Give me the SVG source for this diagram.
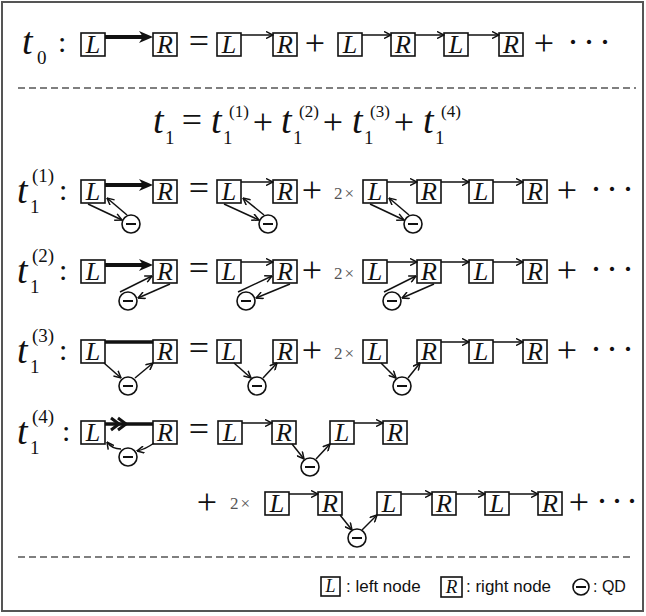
<svg xmlns="http://www.w3.org/2000/svg" width="646" height="616" viewBox="0 0 646 616">
<style>
.bx{fill:#fff;stroke:#111;stroke-width:1.6}
.bt{font-family:"Liberation Serif",serif;font-style:italic;font-size:26px;fill:#111;text-anchor:middle}
.m{font-family:"Liberation Serif",serif;font-size:36px;fill:#111;text-anchor:middle}
.t{font-family:"Liberation Serif",serif;font-style:italic;font-size:38px;fill:#111}
.s{font-family:"Liberation Serif",serif;font-size:19px;fill:#111}
.p{font-family:"Liberation Serif",serif;font-size:17px;fill:#111}
.c{font-family:"Liberation Serif",serif;font-size:30px;fill:#111}
.k{font-family:"Liberation Serif",serif;font-size:17px;fill:#555;letter-spacing:2px}
.d{font-family:"Liberation Serif",serif;font-size:36px;fill:#111;letter-spacing:4px}
.lg{font-family:"Liberation Sans",Arial,sans-serif;font-size:17px;fill:#111}
.q circle{fill:#fff;stroke:#111;stroke-width:1.6}
.q line{stroke:#111;stroke-width:2}
.a{fill:none;stroke:#111;stroke-width:1.5;marker-end:url(#ah)}
.th{fill:none;stroke:#111;stroke-width:4;marker-end:url(#th)}
.tl{fill:none;stroke:#111;stroke-width:3.5}
.ds{stroke:#555;stroke-width:1.5;stroke-dasharray:7 4}
</style>
<defs>
<marker id="ah" viewBox="0 0 8 8" refX="7.5" refY="4" markerWidth="8" markerHeight="8" markerUnits="userSpaceOnUse" orient="auto">
<path d="M0.5,0.5 L7.5,4 L0.5,7.5" fill="none" stroke="#111" stroke-width="1.5"/>
</marker>
<marker id="th" viewBox="0 0 14 14" refX="9" refY="7" markerWidth="14" markerHeight="14" markerUnits="userSpaceOnUse" orient="auto">
<path d="M0,1 L14,7 L0,13 L4,7 Z" fill="#111"/>
</marker>
</defs>
<rect x="2" y="2" width="641" height="609" fill="#fff" stroke="#555" stroke-width="2"/>
<line class="ds" x1="18" y1="88" x2="636" y2="88"/>
<line class="ds" x1="18" y1="557" x2="634" y2="557"/>

<!-- labels and math -->
<g id="labels">
<text class="t" x="22" y="54">t</text><text class="s" x="37" y="64">0</text><text class="c" x="58" y="52">:</text>
<text class="m" x="199" y="53">=</text><text class="m" x="315" y="55">+</text><text class="m" x="544" y="55">+</text><text class="d" x="567" y="54">···</text>

<text class="t" x="153" y="133">t</text><text class="s" x="165" y="144">1</text>
<text class="m" x="192" y="132">=</text>
<text class="t" x="211" y="133">t</text><text class="s" x="223" y="144">1</text><text class="p" x="229" y="117">(1)</text>
<text class="m" x="263" y="134">+</text>
<text class="t" x="281" y="133">t</text><text class="s" x="293" y="144">1</text><text class="p" x="299" y="117">(2)</text>
<text class="m" x="333" y="134">+</text>
<text class="t" x="352" y="133">t</text><text class="s" x="364" y="144">1</text><text class="p" x="370" y="117">(3)</text>
<text class="m" x="404" y="134">+</text>
<text class="t" x="423" y="133">t</text><text class="s" x="435" y="144">1</text><text class="p" x="441" y="117">(4)</text>

<text class="t" x="17" y="203">t</text><text class="s" x="30" y="213">1</text><text class="s" x="32" y="182">(1)</text><text class="c" x="59" y="200">:</text>
<text class="m" x="199" y="200">=</text><text class="m" x="312" y="202">+</text><text class="k" x="334" y="199">2×</text><text class="m" x="567" y="202">+</text><text class="d" x="590" y="201">···</text>

<text class="t" x="17" y="283">t</text><text class="s" x="30" y="293">1</text><text class="s" x="32" y="262">(2)</text><text class="c" x="59" y="280">:</text>
<text class="m" x="199" y="280">=</text><text class="m" x="312" y="282">+</text><text class="k" x="334" y="279">2×</text><text class="m" x="567" y="282">+</text><text class="d" x="590" y="281">···</text>

<text class="t" x="17" y="363">t</text><text class="s" x="30" y="373">1</text><text class="s" x="32" y="342">(3)</text><text class="c" x="59" y="360">:</text>
<text class="m" x="199" y="360">=</text><text class="m" x="312" y="362">+</text><text class="k" x="334" y="359">2×</text><text class="m" x="567" y="362">+</text><text class="d" x="590" y="361">···</text>

<text class="t" x="17" y="444">t</text><text class="s" x="30" y="454">1</text><text class="s" x="32" y="423">(4)</text><text class="c" x="62" y="441">:</text>
<text class="m" x="199" y="441">=</text>

<text class="m" x="207" y="514">+</text><text class="k" x="230" y="509">2×</text><text class="m" x="579" y="514">+</text><text class="d" x="596" y="513" style="letter-spacing:3px">···</text>
</g>

<!-- nodes -->
<g id="t0-L1"><rect class="bx" x="81" y="33" width="24" height="23"/><text class="bt" x="93" y="53">L</text></g>
<g id="t0-R1"><rect class="bx" x="153" y="33" width="24" height="23"/><text class="bt" x="165" y="53">R</text></g>
<g id="t0-L2"><rect class="bx" x="217" y="33" width="24" height="23"/><text class="bt" x="229" y="53">L</text></g>
<g id="t0-R2"><rect class="bx" x="273" y="33" width="24" height="23"/><text class="bt" x="285" y="53">R</text></g>
<g id="t0-L3"><rect class="bx" x="338" y="33" width="24" height="23"/><text class="bt" x="350" y="53">L</text></g>
<g id="t0-R3"><rect class="bx" x="391" y="33" width="24" height="23"/><text class="bt" x="403" y="53">R</text></g>
<g id="t0-L4"><rect class="bx" x="444" y="33" width="24" height="23"/><text class="bt" x="456" y="53">L</text></g>
<g id="t0-R4"><rect class="bx" x="499" y="33" width="24" height="23"/><text class="bt" x="511" y="53">R</text></g>

<g id="a-L1"><rect class="bx" x="81" y="180" width="24" height="23"/><text class="bt" x="93" y="200">L</text></g>
<g id="a-R1"><rect class="bx" x="153" y="180" width="24" height="23"/><text class="bt" x="165" y="200">R</text></g>
<g id="a-L2"><rect class="bx" x="217" y="180" width="24" height="23"/><text class="bt" x="229" y="200">L</text></g>
<g id="a-R2"><rect class="bx" x="273" y="180" width="24" height="23"/><text class="bt" x="285" y="200">R</text></g>
<g id="a-L3"><rect class="bx" x="363" y="180" width="24" height="23"/><text class="bt" x="375" y="200">L</text></g>
<g id="a-R3"><rect class="bx" x="417" y="180" width="24" height="23"/><text class="bt" x="429" y="200">R</text></g>
<g id="a-L4"><rect class="bx" x="469" y="180" width="24" height="23"/><text class="bt" x="481" y="200">L</text></g>
<g id="a-R4"><rect class="bx" x="523" y="180" width="24" height="23"/><text class="bt" x="535" y="200">R</text></g>
<g id="a-Q1" class="q"><circle cx="131" cy="224" r="9"/><line x1="126" y1="224" x2="136" y2="224"/></g>
<g id="a-Q2" class="q"><circle cx="268" cy="224" r="9"/><line x1="263" y1="224" x2="273" y2="224"/></g>
<g id="a-Q3" class="q"><circle cx="413" cy="224" r="9"/><line x1="408" y1="224" x2="418" y2="224"/></g>

<g id="b-L1"><rect class="bx" x="81" y="260" width="24" height="23"/><text class="bt" x="93" y="280">L</text></g>
<g id="b-R1"><rect class="bx" x="153" y="260" width="24" height="23"/><text class="bt" x="165" y="280">R</text></g>
<g id="b-L2"><rect class="bx" x="217" y="260" width="24" height="23"/><text class="bt" x="229" y="280">L</text></g>
<g id="b-R2"><rect class="bx" x="273" y="260" width="24" height="23"/><text class="bt" x="285" y="280">R</text></g>
<g id="b-L3"><rect class="bx" x="363" y="260" width="24" height="23"/><text class="bt" x="375" y="280">L</text></g>
<g id="b-R3"><rect class="bx" x="417" y="260" width="24" height="23"/><text class="bt" x="429" y="280">R</text></g>
<g id="b-L4"><rect class="bx" x="469" y="260" width="24" height="23"/><text class="bt" x="481" y="280">L</text></g>
<g id="b-R4"><rect class="bx" x="523" y="260" width="24" height="23"/><text class="bt" x="535" y="280">R</text></g>
<g id="b-Q1" class="q"><circle cx="128" cy="301" r="9"/><line x1="123" y1="301" x2="133" y2="301"/></g>
<g id="b-Q2" class="q"><circle cx="246" cy="301" r="9"/><line x1="241" y1="301" x2="251" y2="301"/></g>
<g id="b-Q3" class="q"><circle cx="392" cy="301" r="9"/><line x1="387" y1="301" x2="397" y2="301"/></g>

<g id="c-L1"><rect class="bx" x="81" y="340" width="24" height="23"/><text class="bt" x="93" y="360">L</text></g>
<g id="c-R1"><rect class="bx" x="153" y="340" width="24" height="23"/><text class="bt" x="165" y="360">R</text></g>
<g id="c-L2"><rect class="bx" x="217" y="340" width="24" height="23"/><text class="bt" x="229" y="360">L</text></g>
<g id="c-R2"><rect class="bx" x="273" y="340" width="24" height="23"/><text class="bt" x="285" y="360">R</text></g>
<g id="c-L3"><rect class="bx" x="363" y="340" width="24" height="23"/><text class="bt" x="375" y="360">L</text></g>
<g id="c-R3"><rect class="bx" x="417" y="340" width="24" height="23"/><text class="bt" x="429" y="360">R</text></g>
<g id="c-L4"><rect class="bx" x="469" y="340" width="24" height="23"/><text class="bt" x="481" y="360">L</text></g>
<g id="c-R4"><rect class="bx" x="523" y="340" width="24" height="23"/><text class="bt" x="535" y="360">R</text></g>
<g id="c-Q1" class="q"><circle cx="128" cy="386" r="9"/><line x1="123" y1="386" x2="133" y2="386"/></g>
<g id="c-Q2" class="q"><circle cx="257" cy="386" r="9"/><line x1="252" y1="386" x2="262" y2="386"/></g>
<g id="c-Q3" class="q"><circle cx="402" cy="386" r="9"/><line x1="397" y1="386" x2="407" y2="386"/></g>

<g id="d-L1"><rect class="bx" x="81" y="421" width="24" height="23"/><text class="bt" x="93" y="441">L</text></g>
<g id="d-R1"><rect class="bx" x="153" y="421" width="24" height="23"/><text class="bt" x="165" y="441">R</text></g>
<g id="d-L2"><rect class="bx" x="218" y="421" width="24" height="23"/><text class="bt" x="230" y="441">L</text></g>
<g id="d-R2"><rect class="bx" x="272" y="421" width="24" height="23"/><text class="bt" x="284" y="441">R</text></g>
<g id="d-L3"><rect class="bx" x="330" y="421" width="24" height="23"/><text class="bt" x="342" y="441">L</text></g>
<g id="d-R3"><rect class="bx" x="383" y="421" width="24" height="23"/><text class="bt" x="395" y="441">R</text></g>
<g id="d-Q1" class="q"><circle cx="128" cy="457" r="9"/><line x1="123" y1="457" x2="133" y2="457"/></g>
<g id="d-Q2" class="q"><circle cx="310" cy="467" r="9"/><line x1="305" y1="467" x2="315" y2="467"/></g>

<g id="e-L1"><rect class="bx" x="265" y="492" width="24" height="23"/><text class="bt" x="277" y="512">L</text></g>
<g id="e-R1"><rect class="bx" x="318" y="492" width="24" height="23"/><text class="bt" x="330" y="512">R</text></g>
<g id="e-L2"><rect class="bx" x="377" y="492" width="24" height="23"/><text class="bt" x="389" y="512">L</text></g>
<g id="e-R2"><rect class="bx" x="432" y="492" width="24" height="23"/><text class="bt" x="444" y="512">R</text></g>
<g id="e-L3"><rect class="bx" x="485" y="492" width="24" height="23"/><text class="bt" x="497" y="512">L</text></g>
<g id="e-R3"><rect class="bx" x="538" y="492" width="24" height="23"/><text class="bt" x="550" y="512">R</text></g>
<g id="e-Q1" class="q"><circle cx="357" cy="538" r="9"/><line x1="352" y1="538" x2="362" y2="538"/></g>

<!-- connectors -->
<g id="connectors">
<line class="th" x1="105" y1="37" x2="148" y2="37"/>
<line class="a" x1="241" y1="35" x2="273" y2="35"/>
<line class="a" x1="362" y1="35" x2="391" y2="35"/>
<line class="a" x1="415" y1="35" x2="444" y2="35"/>
<line class="a" x1="468" y1="35" x2="499" y2="35"/>

<line class="th" x1="105" y1="185" x2="148" y2="185"/>
<line class="a" x1="241" y1="182" x2="273" y2="182"/>
<line class="a" x1="387" y1="182" x2="417" y2="182"/>
<line class="a" x1="441" y1="182" x2="469" y2="182"/>
<line class="a" x1="493" y1="182" x2="523" y2="182"/>
<line class="a" x1="88" y1="204" x2="122" y2="220"/>
<line class="a" x1="127" y1="215" x2="107" y2="198"/>
<line class="a" x1="224" y1="204" x2="259" y2="220"/>
<line class="a" x1="264" y1="215" x2="243" y2="198"/>
<line class="a" x1="370" y1="204" x2="404" y2="220"/>
<line class="a" x1="409" y1="215" x2="389" y2="198"/>

<line class="th" x1="105" y1="265" x2="148" y2="265"/>
<line class="a" x1="241" y1="262" x2="273" y2="262"/>
<line class="a" x1="387" y1="262" x2="417" y2="262"/>
<line class="a" x1="441" y1="262" x2="469" y2="262"/>
<line class="a" x1="493" y1="262" x2="523" y2="262"/>
<line class="a" x1="120" y1="292" x2="152" y2="276"/>
<line class="a" x1="170" y1="284" x2="138" y2="298"/>
<line class="a" x1="238" y1="292" x2="272" y2="276"/>
<line class="a" x1="290" y1="284" x2="256" y2="298"/>
<line class="a" x1="384" y1="292" x2="416" y2="276"/>
<line class="a" x1="434" y1="284" x2="402" y2="298"/>

<line class="tl" x1="105" y1="342" x2="153" y2="342"/>
<line class="a" x1="441" y1="342" x2="469" y2="342"/>
<line class="a" x1="493" y1="342" x2="523" y2="342"/>
<line class="a" x1="104" y1="363" x2="121" y2="378"/>
<line class="a" x1="135" y1="378" x2="153" y2="363"/>
<line class="a" x1="234" y1="363" x2="251" y2="378"/>
<line class="a" x1="263" y1="378" x2="277" y2="363"/>
<line class="a" x1="381" y1="363" x2="396" y2="378"/>
<line class="a" x1="408" y1="378" x2="420" y2="363"/>

<line class="tl" x1="105" y1="424" x2="153" y2="424"/>
<path d="M111,418 L119,424 L111,430 M118,418 L126,424 L118,430" fill="none" stroke="#111" stroke-width="3"/>
<path class="a" d="M121,449 Q112,449 107,442"/>
<path class="a" d="M154,443 Q146,449 137,451"/>
<line class="a" x1="242" y1="423" x2="272" y2="423"/>
<line class="a" x1="354" y1="423" x2="383" y2="423"/>
<line class="a" x1="292" y1="444" x2="304" y2="459"/>
<line class="a" x1="316" y1="459" x2="330" y2="444"/>

<line class="a" x1="289" y1="494" x2="318" y2="494"/>
<line class="a" x1="401" y1="494" x2="432" y2="494"/>
<line class="a" x1="456" y1="494" x2="485" y2="494"/>
<line class="a" x1="509" y1="494" x2="538" y2="494"/>
<line class="a" x1="340" y1="515" x2="352" y2="530"/>
<line class="a" x1="362" y1="530" x2="377" y2="515"/>
</g>

<!-- legend -->
<g id="legend">
<g id="lg-L"><rect class="bx" x="321" y="577" width="19" height="19"/><text class="bt" x="330.5" y="592" style="font-size:18px">L</text></g>
<text class="lg" x="346" y="592">: left node</text>
<g id="lg-R"><rect class="bx" x="441" y="577" width="21" height="20"/><text class="bt" x="451.5" y="593" style="font-size:19px">R</text></g>
<text class="lg" x="466" y="592">: right node</text>
<g id="lg-Q" class="q"><circle cx="581" cy="587" r="8"/><line x1="576" y1="587" x2="586" y2="587"/></g>
<text class="lg" x="593" y="592" style="font-size:16px">: QD</text>
</g>
</svg>
